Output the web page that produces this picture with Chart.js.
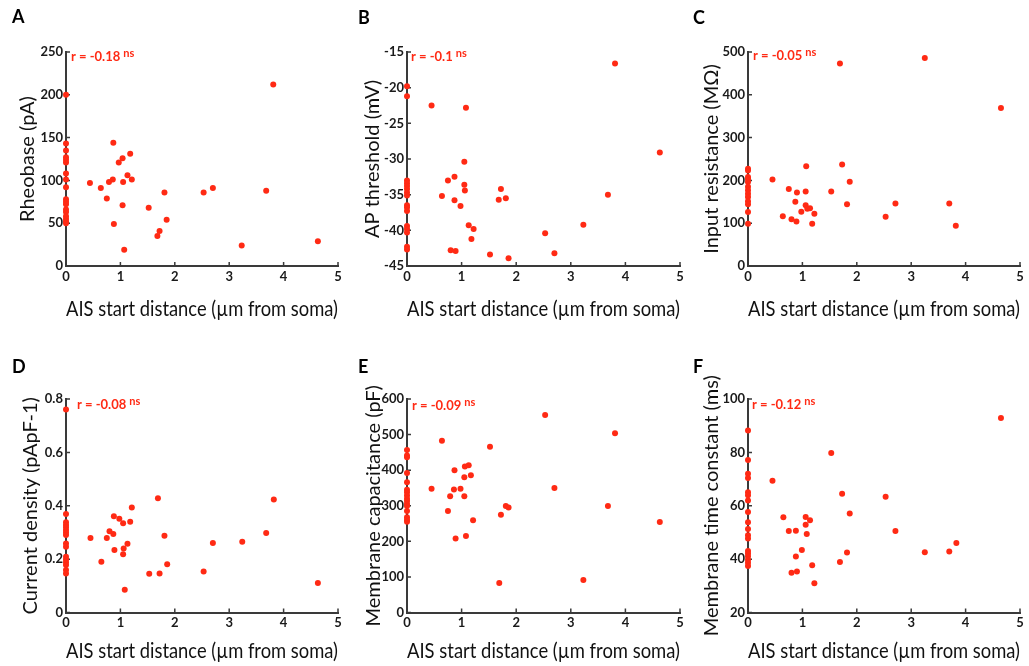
<!DOCTYPE html>
<html>
<head>
<meta charset="utf-8">
<script src="https://cdn.jsdelivr.net/npm/chart.js@4"></script>
<style>
  body { margin: 0; background: #fff; width: 1029px; height: 666px; position: relative; overflow: hidden; }
  canvas { position: absolute; }
</style>
</head>
<body>
<canvas id="cA" width="346" height="330" style="left:0;top:0"></canvas>
<canvas id="cB" width="350" height="330" style="left:340px;top:0"></canvas>
<canvas id="cC" width="344" height="330" style="left:685px;top:0"></canvas>
<canvas id="cD" width="346" height="336" style="left:0;top:330px"></canvas>
<canvas id="cE" width="350" height="336" style="left:340px;top:330px"></canvas>
<canvas id="cF" width="344" height="336" style="left:685px;top:330px"></canvas>
<script>
// AIS start distance (um from soma) and the measured property, per panel
const rheobaseX = [0,0,0,0,0,0,0,0,0,0,0,0,0,0,0,0,0,0,
  0.44,0.64,0.75,0.79,0.86,0.87,0.88,0.97,1.04,1.05,1.04,1.07,1.13,1.18,1.21,1.52,1.68,1.72,1.81,1.85,2.53,2.70,3.23,3.68,3.81,4.63];
const rheobaseY = [200,143,135,127,124,121,108,101,92,78,75,72,66,63,58,55,52,50,
  97,91,79,98,101,144,49,121,126,98,71,19,106,131,101,68,35,41,86,54,86,91,24,88,212,29];

const thresholdX = [0,0,0,0,0,0,0,0,0,0,0,0,0,0,0,0,
  0.45,0.64,0.75,0.80,0.87,0.87,0.89,0.98,1.05,1.05,1.06,1.08,1.13,1.18,1.22,1.52,1.68,1.72,1.81,1.86,2.53,2.70,3.23,3.68,3.81,4.63];
const thresholdY = [-19.8,-21.2,-33.0,-33.4,-33.8,-34.2,-34.7,-35.1,-36.5,-36.8,-37.3,-39.4,-39.8,-40.3,-42.3,-42.7,
  -22.5,-35.2,-33.0,-42.8,-32.5,-35.8,-42.9,-36.6,-30.4,-33.6,-34.4,-22.8,-39.3,-41.2,-39.8,-43.4,-35.7,-34.2,-35.5,-43.9,-40.4,-43.2,-39.2,-35.0,-16.6,-29.1];

const resistanceX = [0,0,0,0,0,0,0,0,0,0,0,0,0,
  0.45,0.64,0.75,0.80,0.87,0.89,0.90,0.98,1.06,1.06,1.07,1.09,1.14,1.18,1.22,1.53,1.69,1.73,1.82,1.87,2.53,2.71,3.25,3.70,3.82,4.65];
const resistanceY = [227,223,208,203,196,185,177,169,161,151,144,126,99,
  202,116,180,109,150,104,172,127,174,142,233,134,135,99,122,174,473,237,144,197,115,146,486,146,94,369];

const densityX = [0,0,0,0,0,0,0,0,0,0,0,0,0,0,0,0,
  0.45,0.65,0.75,0.80,0.87,0.88,0.89,0.98,1.05,1.05,1.06,1.08,1.13,1.18,1.21,1.53,1.69,1.72,1.81,1.86,2.53,2.70,3.24,3.68,3.82,4.63];
const densityY = [0.761,0.369,0.338,0.328,0.319,0.309,0.300,0.290,0.259,0.246,0.209,0.199,0.188,0.178,0.159,0.146,
  0.279,0.190,0.279,0.304,0.294,0.361,0.234,0.351,0.334,0.218,0.240,0.085,0.258,0.340,0.393,0.145,0.428,0.146,0.288,0.181,0.154,0.260,0.265,0.298,0.423,0.111];

const capacitanceX = [0,0,0,0,0,0,0,0,0,0,0,0,0,0,0,0,
  0.45,0.64,0.75,0.79,0.86,0.87,0.89,0.98,1.05,1.05,1.06,1.08,1.13,1.17,1.21,1.52,1.69,1.72,1.81,1.86,2.53,2.70,3.23,3.68,3.81,4.63];
const capacitanceY = [457,441,436,392,366,345,338,329,320,313,305,299,285,268,261,255,
  348,483,285,327,346,400,208,348,380,327,410,215,414,386,259,466,83,275,299,295,555,350,91,299,504,254];

const timeConstX = [0,0,0,0,0,0,0,0,0,0,0,0,0,0,0,0,0,0,
  0.45,0.65,0.75,0.80,0.88,0.88,0.90,0.99,1.06,1.06,1.08,1.14,1.18,1.22,1.53,1.69,1.73,1.82,1.87,2.53,2.71,3.25,3.70,3.83,4.65];
const timeConstY = [88.2,77.1,72.0,70.4,65.1,63.9,62.0,57.7,53.8,51.3,48.9,47.7,43.0,42.1,41.1,39.8,38.6,37.4,
  69.4,55.7,50.5,34.9,50.6,41.0,35.4,43.4,55.8,52.9,49.4,54.6,37.7,31.0,79.8,38.9,64.5,42.5,57.1,63.4,50.5,42.6,42.9,46.0,92.9];

const panelLetters = ['A','B','C','D','E','F'];
const yTitles = ['Rheobase (pA)','AP threshold (mV)','Input resistance (M\u03A9)',
  'Current density (pApF-1)','Membrane capacitance (pF)','Membrane time constant (ms)'];
const xTitle = 'AIS start distance (\u00B5m from soma)';
const rLabels = ['r = -0.18','r = -0.1','r = -0.05','r = -0.08','r = -0.09','r = -0.12'];
const yRanges = [[0,250,50],[-45,-15,5],[0,500,100],[0,0.8,0.2],[0,600,100],[20,100,20]];

const RED = '#ff2a14';
const AXIS = '#3a3a3a';
const FONT = 'Lato';

const panels = [
  { id:'cA', xs:rheobaseX, ys:rheobaseY, axisW:66, padTop:52, padRight:8, xAxisH:64, titleX:28, letter:[12,23], rDx:5, rDy:5, xTitlePad:8 },
  { id:'cB', xs:thresholdX, ys:thresholdY, axisW:67, padTop:52, padRight:10, xAxisH:64, titleX:33, letter:[18,24], rDx:4, rDy:5, xTitlePad:8 },
  { id:'cC', xs:resistanceX, ys:resistanceY, axisW:63, padTop:52, padRight:9, xAxisH:64, titleX:27, letter:[8,24], rDx:5, rDy:4, xTitlePad:8 },
  { id:'cD', xs:densityX, ys:densityY, axisW:66, padTop:69, padRight:8, xAxisH:53.5, titleX:31, letter:[12,43], rDx:11, rDy:6, xTitlePad:2 },
  { id:'cE', xs:capacitanceX, ys:capacitanceY, axisW:67, padTop:69, padRight:10, xAxisH:53.5, titleX:34, letter:[18,43], rDx:5, rDy:7, xTitlePad:2 },
  { id:'cF', xs:timeConstX, ys:timeConstY, axisW:63, padTop:69, padRight:9, xAxisH:53.5, titleX:27, letter:[8,43], rDx:4, rDy:6, xTitlePad:2 }
];

// short inward tick marks, like the original figure
const inwardTicks = {
  id: 'inwardTicks',
  beforeDatasetsDraw(chart) {
    const ctx = chart.ctx, area = chart.chartArea;
    const xs = chart.scales.x, ys = chart.scales.y;
    ctx.save();
    ctx.strokeStyle = AXIS;
    ctx.lineWidth = 1.5;
    ctx.beginPath();
    xs.ticks.forEach(t => {
      const px = xs.getPixelForValue(t.value);
      ctx.moveTo(px, area.bottom); ctx.lineTo(px, area.bottom - 4);
    });
    ys.ticks.forEach(t => {
      const py = ys.getPixelForValue(t.value);
      ctx.moveTo(area.left, py); ctx.lineTo(area.left + 4, py);
    });
    ctx.stroke();
    ctx.restore();
  }
};

const panelText = {
  id: 'panelText',
  afterDatasetsDraw(chart, args, opts) {
    const ctx = chart.ctx, area = chart.chartArea;
    ctx.save();
    ctx.fillStyle = '#000';
    ctx.font = 'bold 18px ' + FONT;
    ctx.textBaseline = 'alphabetic';
    ctx.fillText(opts.letter, opts.letterPos[0], opts.letterPos[1]);
    ctx.fillStyle = RED;
    ctx.font = 'bold 13px ' + FONT;
    ctx.textBaseline = 'middle';
    const x0 = area.left + opts.dx, y0 = area.top + opts.dy;
    ctx.fillText(opts.r, x0, y0);
    const w = ctx.measureText(opts.r).width;
    ctx.font = 'bold 11px ' + FONT;
    ctx.fillText('ns', x0 + w + 3, y0 - 4);
    ctx.restore();
  }
};

panels.forEach((p, i) => {
  const [ymin, ymax, ystep] = yRanges[i];
  new Chart(p.id, {
    type: 'scatter',
    data: {
      datasets: [{
        data: p.xs.map((x, k) => ({ x: x, y: p.ys[k] })),
        backgroundColor: RED,
        borderColor: RED,
        pointRadius: 3,
        pointBorderWidth: 0,
        clip: false
      }]
    },
    options: {
      responsive: false,
      animation: false,
      devicePixelRatio: 1,
      layout: { padding: { top: p.padTop, right: p.padRight, left: 0, bottom: 0 } },
      scales: {
        x: {
          type: 'linear', min: 0, max: 5,
          ticks: { stepSize: 1, padding: 3, color: '#1a1a1a', font: { family: FONT, size: 13, weight: 'bold' } },
          grid: { display: false, drawTicks: false },
          border: { display: true, color: AXIS, width: 2 },
          title: { display: true, text: xTitle, color: '#111', font: { family: FONT, size: 22 },
                   padding: { top: 0, bottom: p.xTitlePad } },
          afterFit: s => { s.height = p.xAxisH; }
        },
        y: {
          type: 'linear', min: ymin, max: ymax,
          ticks: { stepSize: ystep, padding: 3, color: '#1a1a1a', font: { family: FONT, size: 13, weight: 'bold' } },
          grid: { display: false, drawTicks: false },
          border: { display: true, color: AXIS, width: 2 },
          title: { display: true, text: yTitles[i], color: '#111', font: { family: FONT, size: 20 },
                   padding: { top: p.titleX - 12, bottom: 0 } },
          afterFit: s => { s.width = p.axisW; }
        }
      },
      plugins: {
        legend: { display: false },
        tooltip: { enabled: false },
        panelText: { letter: panelLetters[i], letterPos: p.letter, r: rLabels[i], dx: p.rDx, dy: p.rDy }
      }
    },
    plugins: [inwardTicks, panelText]
  });
});
</script>
</body>
</html>
